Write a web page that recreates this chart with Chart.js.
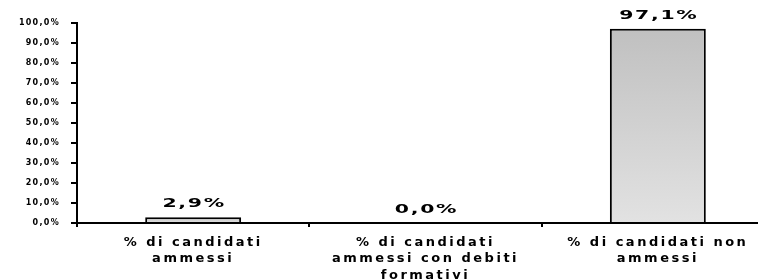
<!DOCTYPE html>
<html>
<head>
<meta charset="utf-8">
<script src="https://cdn.jsdelivr.net/npm/chart.js@4/dist/chart.umd.min.js"></script>
<style>
html,body{margin:0;padding:0;background:#fff;overflow:hidden;width:758px;height:279px;}
#wrap{width:774px;height:279px;}
</style>
</head>
<body>
<div id="wrap"><canvas id="c" width="774" height="279"></canvas></div>
<script>
const categories = [
  ["% di candidati", "ammessi"],
  ["% di candidati", "ammessi con debiti", "formativi"],
  ["% di candidati non", "ammessi"]
];
const values = [2.9, 0.0, 97.1];
const yMin = 0, yMax = 100, yStep = 10;

function fmt(v) { return v.toFixed(1).replace('.', ',') + '%'; }

function spaced(scale, px) {
  if (scale._spaced) return;
  const orig = scale.drawLabels.bind(scale);
  scale.drawLabels = function (area) {
    const c = this.ctx;
    const prev = c.letterSpacing;
    c.letterSpacing = px;
    orig(area);
    c.letterSpacing = prev;
  };
  scale._spaced = true;
}

const spacingPlugin = {
  id: 'spacing',
  beforeDraw(chart) {
    spaced(chart.scales.x, '2.5px');
    spaced(chart.scales.y, '1.3px');
  }
};

const valueLabels = {
  id: 'valueLabels',
  afterDatasetsDraw(chart) {
    const ctx = chart.ctx;
    const meta = chart.getDatasetMeta(0);
    meta.data.forEach((bar, i) => {
      const txt = fmt(values[i]);
      ctx.save();
      ctx.font = 'bold 12px "DejaVu Sans"';
      ctx.fillStyle = '#000';
      ctx.textAlign = 'center';
      ctx.textBaseline = 'middle';
      ctx.letterSpacing = '1px';
      ctx.translate(bar.x + 1, bar.y - 13);
      ctx.scale(1.7, 1);
      ctx.fillText(txt, 0, 0);
      ctx.restore();
    });
  }
};

new Chart(document.getElementById('c'), {
  type: 'bar',
  data: {
    labels: categories,
    datasets: [{
      data: values,
      backgroundColor: (c) => {
        const ys = c.chart.scales && c.chart.scales.y;
        if (!ys || c.dataIndex === undefined) return '#d0d0d0';
        const top = ys.getPixelForValue(values[c.dataIndex]);
        const bot = ys.getPixelForValue(0);
        if (!isFinite(top) || !isFinite(bot) || bot - top < 1) return '#d0d0d0';
        const g = c.chart.ctx.createLinearGradient(0, top, 0, bot);
        g.addColorStop(0, '#c0c0c0');
        g.addColorStop(1, '#e2e2e2');
        return g;
      },
      borderColor: '#000',
      borderWidth: 2,
      borderSkipped: 'start',
      barPercentage: 0.413,
      categoryPercentage: 1.0
    }]
  },
  options: {
    responsive: false,
    devicePixelRatio: 1,
    animation: false,
    layout: { padding: { top: 23, left: 0, right: 0, bottom: 0 } },
    plugins: { legend: { display: false }, tooltip: { enabled: false } },
    scales: {
      x: {
        offset: true,
        grid: { display: true, offset: true, drawOnChartArea: false, color: '#000', lineWidth: 2, tickLength: 4 },
        border: { display: true, color: '#000', width: 2 },
        ticks: {
          color: '#000',
          font: { family: '"DejaVu Sans"', size: 13, weight: 'bold', lineHeight: 1.27 },
          padding: 7,
          maxRotation: 0,
          autoSkip: false
        },
        afterFit(s) { s.height = 56; }
      },
      y: {
        min: yMin, max: yMax,
        grid: { display: true, drawOnChartArea: false, color: '#000', lineWidth: 2, tickLength: 6 },
        border: { display: true, color: '#000', width: 2 },
        ticks: {
          stepSize: yStep,
          color: '#000',
          font: { family: '"DejaVu Sans"', size: 8, weight: 'bold' },
          padding: 11,
          callback: (v) => fmt(v)
        },
        afterFit(s) { s.width = 77; }
      }
    }
  },
  plugins: [spacingPlugin, valueLabels]
});
</script>
</body>
</html>
